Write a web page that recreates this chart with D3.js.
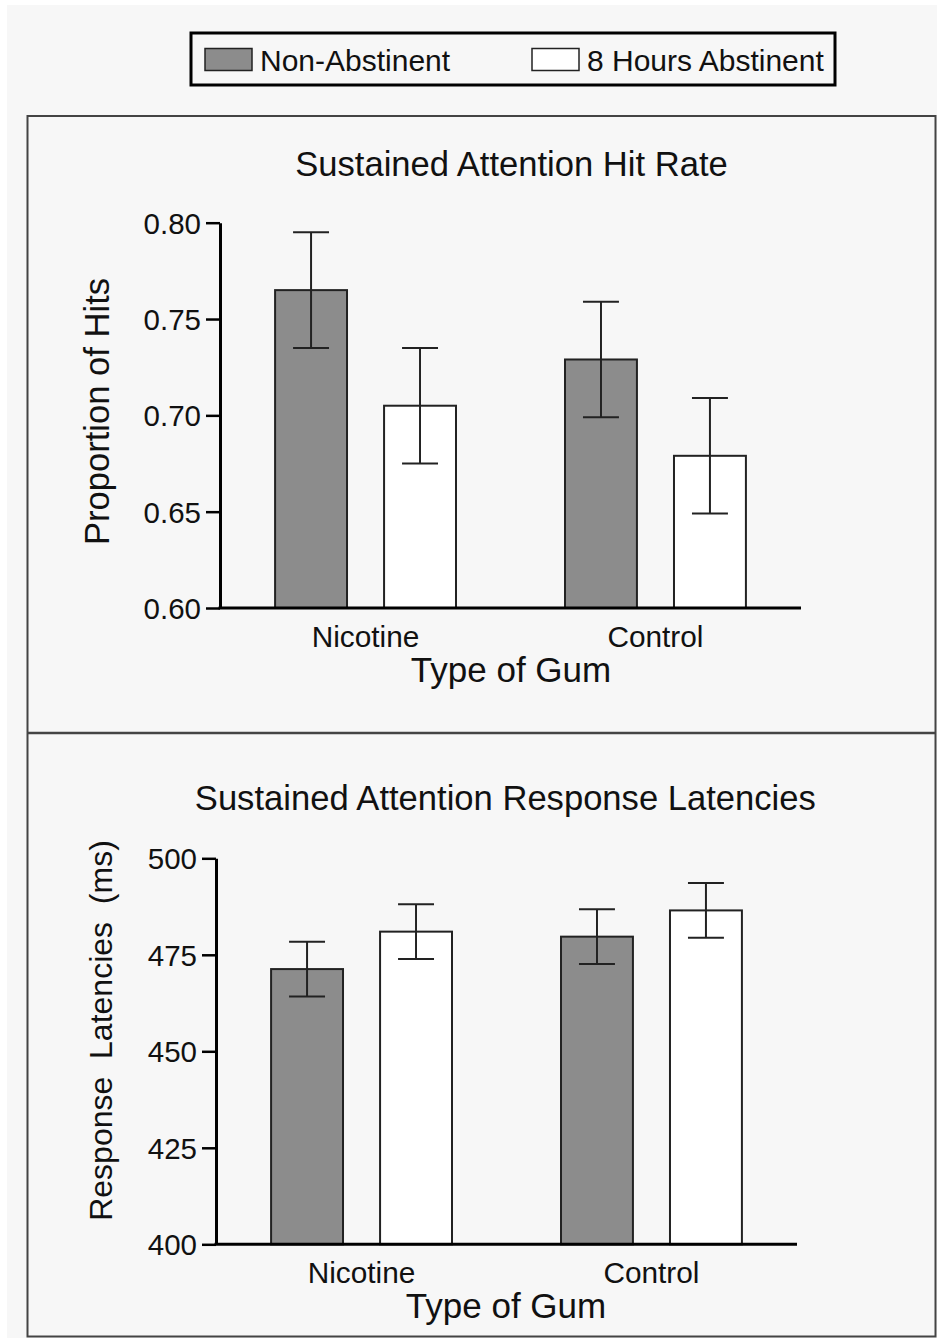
<!DOCTYPE html>
<html>
<head>
<meta charset="utf-8">
<script src="https://cdn.jsdelivr.net/npm/d3@7"></script>
<style>
    body { margin: 0; background: #ffffff; }
    text { font-family: "Liberation Sans", Arial, sans-serif; fill: #111; }
</style>
</head>
<body>
<script>
const width = 937,
    height = 1338;

// data
const groups = ["Nicotine", "Control"];
const series = ["Non-Abstinent", "8 Hours Abstinent"];
const seriesFill = ["#8c8c8c", "#ffffff"];

const hitNonAbstinent = [0.765, 0.729];
const hitAbstinent = [0.705, 0.679];
const hitErrNonAbstinent = [0.030, 0.030];
const hitErrAbstinent = [0.030, 0.030];
const hitTicks = [0.60, 0.65, 0.70, 0.75, 0.80];

const latNonAbstinent = [471.3, 479.7];
const latAbstinent = [481.0, 486.5];
const latErrNonAbstinent = [7.1, 7.1];
const latErrAbstinent = [7.1, 7.1];
const latTicks = [400, 425, 450, 475, 500];

const svg = d3.select('body')
    .append('svg')
    .attr('width', width)
    .attr('height', height);

svg.append('rect')
    .attr('x', 7)
    .attr('y', 5)
    .attr('width', width - 7)
    .attr('height', height - 5)
    .attr('fill', '#f7f7f7');

// panel frames
svg.append('rect')
    .attr('x', 27.5)
    .attr('y', 116)
    .attr('width', 908)
    .attr('height', 1220.5)
    .attr('fill', 'none')
    .attr('stroke', '#444')
    .attr('stroke-width', 2);

svg.append('line')
    .attr('x1', 27.5)
    .attr('x2', 936)
    .attr('y1', 733)
    .attr('y2', 733)
    .attr('stroke', '#444')
    .attr('stroke-width', 2.5);

// legend
const legend = svg.append('g');
legend.append('rect')
    .attr('x', 191)
    .attr('y', 33)
    .attr('width', 644)
    .attr('height', 52)
    .attr('fill', 'none')
    .attr('stroke', '#000')
    .attr('stroke-width', 3);

const legendX = [205, 532];
series.forEach(function (s, i) {
    legend.append('rect')
        .attr('x', legendX[i])
        .attr('y', 48.5)
        .attr('width', 47)
        .attr('height', 22)
        .attr('fill', seriesFill[i])
        .attr('stroke', '#222')
        .attr('stroke-width', 1.5);
    legend.append('text')
        .attr('x', legendX[i] + 55)
        .attr('y', 71)
        .style('font-size', '30px')
        .text(s);
});

function drawPanel(cfg) {
    const g = svg.append('g');

    const x0 = d3.scaleBand()
        .domain(groups)
        .range(cfg.xRange)
        .paddingInner(0.376)
        .paddingOuter(0.19);

    const x1 = d3.scaleBand()
        .domain(series)
        .range([0, x0.bandwidth()])
        .paddingInner(0.34);

    const y = d3.scaleLinear()
        .domain(cfg.domain)
        .range(cfg.yRange);

    const rows = groups.map(function (grp, i) {
        return [
            {group: grp, s: series[0], v: cfg.values[0][i], e: cfg.errors[0][i], fill: seriesFill[0]},
            {group: grp, s: series[1], v: cfg.values[1][i], e: cfg.errors[1][i], fill: seriesFill[1]}
        ];
    }).flat();

    g.append('text')
        .attr('x', cfg.titleX)
        .attr('y', cfg.titleY)
        .attr('text-anchor', 'middle')
        .style('font-size', '34.6px')
        .text(cfg.title);

    g.selectAll('rect.bar')
        .data(rows)
        .enter().append('rect')
        .attr('class', 'bar')
        .attr('x', d => x0(d.group) + x1(d.s))
        .attr('y', d => y(d.v))
        .attr('width', x1.bandwidth())
        .attr('height', d => y(cfg.domain[0]) - y(d.v))
        .attr('fill', d => d.fill)
        .attr('stroke', '#222')
        .attr('stroke-width', 2);

    const cap = x1.bandwidth() / 4;
    const err = g.append('g')
        .attr('stroke', '#222')
        .attr('stroke-width', 2)
        .selectAll('g')
        .data(rows)
        .enter().append('g')
        .attr('transform', d => 'translate(' + (x0(d.group) + x1(d.s) + x1.bandwidth() / 2) + ',0)');
    err.append('line')
        .attr('y1', d => y(d.v + d.e))
        .attr('y2', d => y(d.v - d.e));
    err.append('line')
        .attr('x1', -cap).attr('x2', cap)
        .attr('y1', d => y(d.v + d.e))
        .attr('y2', d => y(d.v + d.e));
    err.append('line')
        .attr('x1', -cap).attr('x2', cap)
        .attr('y1', d => y(d.v - d.e))
        .attr('y2', d => y(d.v - d.e));

    const yAxis = g.append('g')
        .attr('transform', 'translate(' + cfg.xRange[0] + ',0)')
        .call(d3.axisLeft(y)
            .tickValues(cfg.ticks)
            .tickFormat(cfg.format)
            .tickSize(14)
            .tickSizeOuter(0)
            .tickPadding(5));
    yAxis.select('.domain')
        .attr('stroke', '#000')
        .attr('stroke-width', 3);
    yAxis.selectAll('.tick line')
        .attr('stroke', '#000')
        .attr('stroke-width', 2.5);
    yAxis.selectAll('.tick text')
        .attr('fill', '#111')
        .style('font-family', '"Liberation Sans", Arial, sans-serif')
        .style('font-size', '29.5px')
        .attr('dy', '0.36em');

    // x axis: plain baseline, no ticks
    g.append('line')
        .attr('x1', cfg.xRange[0] - 1.5)
        .attr('x2', cfg.xRange[1])
        .attr('y1', y(cfg.domain[0]))
        .attr('y2', y(cfg.domain[0]))
        .attr('stroke', '#000')
        .attr('stroke-width', 3);

    g.selectAll('text.cat')
        .data(groups)
        .enter().append('text')
        .attr('class', 'cat')
        .attr('x', d => x0(d) + x0.bandwidth() / 2)
        .attr('y', y(cfg.domain[0]) + 38.5)
        .attr('text-anchor', 'middle')
        .style('font-size', '29.8px')
        .text(d => d);

    g.append('text')
        .attr('x', cfg.xTitleX)
        .attr('y', y(cfg.domain[0]) + 73.5)
        .attr('text-anchor', 'middle')
        .style('font-size', '35px')
        .text('Type of Gum');

    g.append('text')
        .attr('transform', 'translate(' + cfg.yTitleX + ',' + cfg.yTitleY + ') rotate(-90)')
        .attr('text-anchor', 'middle')
        .attr('xml:space', 'preserve')
        .style('white-space', 'pre')
        .style('font-size', cfg.yTitleSize)
        .text(cfg.yTitle);
}

drawPanel({
    title: 'Sustained Attention Hit Rate',
    titleX: 511.5,
    titleY: 176,
    xRange: [220, 801],
    yRange: [608, 222.7],
    domain: [0.60, 0.80],
    ticks: hitTicks,
    format: d3.format('.2f'),
    values: [hitNonAbstinent, hitAbstinent],
    errors: [hitErrNonAbstinent, hitErrAbstinent],
    xTitleX: 511,
    yTitle: 'Proportion of Hits',
    yTitleX: 109,
    yTitleY: 411.5,
    yTitleSize: '34.6px'
});

drawPanel({
    title: 'Sustained Attention Response Latencies',
    titleX: 505.3,
    titleY: 809.5,
    xRange: [216, 797],
    yRange: [1244.3, 858.3],
    domain: [400, 500],
    ticks: latTicks,
    format: d3.format('d'),
    values: [latNonAbstinent, latAbstinent],
    errors: [latErrNonAbstinent, latErrAbstinent],
    xTitleX: 506,
    yTitle: 'Response  Latencies  (ms)',
    yTitleX: 111.5,
    yTitleY: 1030.5,
    yTitleSize: '32px'
});
</script>
</body>
</html>
